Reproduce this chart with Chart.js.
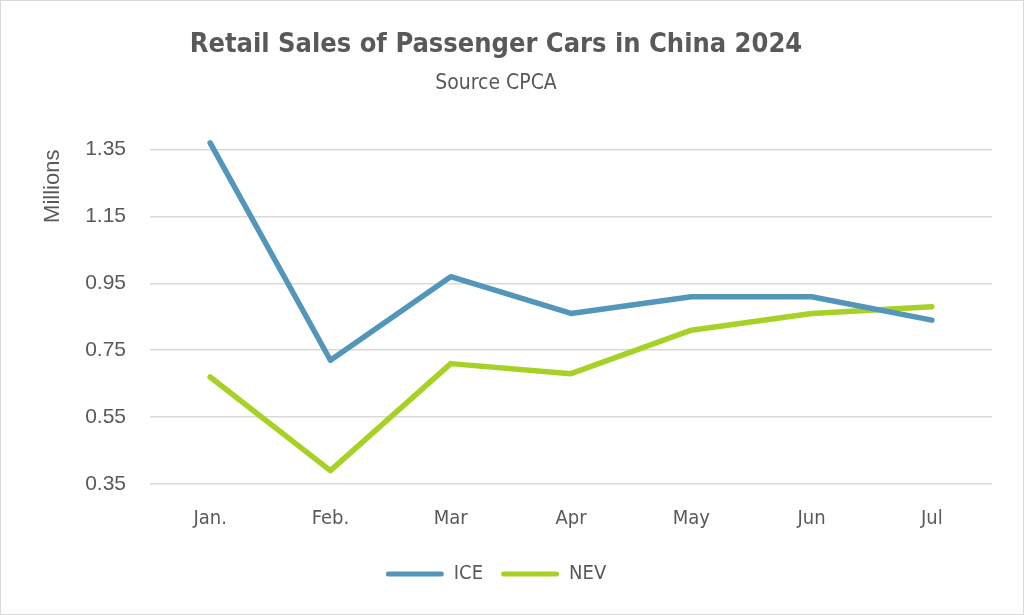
<!DOCTYPE html>
<html>
<head>
<meta charset="utf-8">
<script src="https://cdn.jsdelivr.net/npm/chart.js@4"></script>
<style>
  body { margin: 0; background: #fff; }
  canvas { display: block; }
</style>
</head>
<body>
<canvas id="chart" width="1024" height="615"></canvas>
<script>
// data
const months = ['Jan.', 'Feb.', 'Mar', 'Apr', 'May', 'Jun', 'Jul'];
const iceSales = [1.37, 0.72, 0.97, 0.86, 0.91, 0.91, 0.84];
const nevSales = [0.67, 0.39, 0.71, 0.68, 0.81, 0.86, 0.88];
const yTicks = [0.35, 0.55, 0.75, 0.95, 1.15, 1.35];

const textColor = '#595959';
const narrow = "'Liberation Sans Narrow', 'DejaVu Sans Condensed', sans-serif";
const regular = "'Liberation Sans', Arial, sans-serif";

// white background + thin frame
const frame = {
    id: 'frame',
    beforeDraw(chart) {
        const ctx = chart.ctx;
        ctx.save();
        ctx.fillStyle = '#fff';
        ctx.fillRect(0, 0, chart.width, chart.height);
        ctx.strokeStyle = '#d9d9d9';
        ctx.lineWidth = 1;
        ctx.strokeRect(0.5, 0.5, chart.width - 1, chart.height - 1);
        ctx.restore();
    }
};

const ctx = document.getElementById('chart').getContext('2d');
const myChart = new Chart(ctx, {
    type: 'line',
    data: {
        labels: months,
        datasets: [
            {
                label: 'ICE',
                data: iceSales,
                borderColor: '#5396BA',
                backgroundColor: '#5396BA',
                borderWidth: 5.5,
                pointRadius: 0,
                tension: 0,
                clip: 20,
                borderCapStyle: 'round',
                borderJoinStyle: 'round'
            },
            {
                label: 'NEV',
                data: nevSales,
                borderColor: '#A8D126',
                backgroundColor: '#A8D126',
                borderWidth: 5.5,
                pointRadius: 0,
                tension: 0,
                clip: 20,
                borderCapStyle: 'round',
                borderJoinStyle: 'round'
            }
        ]
    },
    options: {
        responsive: false,
        animation: false,
        layout: { padding: { top: 0, left: 0, right: 32, bottom: 21 } },
        plugins: {
            title: {
                display: true,
                text: 'Retail Sales of Passenger Cars in China 2024',
                color: textColor,
                font: { family: narrow, size: 27, weight: 'bold' },
                padding: { top: 29, bottom: 0 }
            },
            subtitle: {
                display: true,
                text: 'Source CPCA',
                color: textColor,
                font: { family: narrow, size: 21 },
                padding: { top: 10, bottom: 53 }
            },
            legend: {
                position: 'bottom',
                labels: {
                    color: textColor,
                    font: { family: narrow, size: 20 },
                    boxWidth: 58,
                    boxHeight: 5,
                    padding: 18,
                    useBorderRadius: true,
                    borderRadius: 2.5,
                    generateLabels(chart) {
                        const items = Chart.defaults.plugins.legend.labels.generateLabels(chart);
                        items.forEach(it => { it.lineWidth = 0; });
                        return items;
                    }
                }
            },
            tooltip: { enabled: false }
        },
        scales: {
            x: {
                offset: true,
                grid: { display: false },
                border: { display: false },
                ticks: {
                    color: textColor,
                    font: { family: narrow, size: 20 },
                    padding: 15
                },
                afterFit(scale) { scale.height = 62; }
            },
            y: {
                min: 0.35,
                max: 1.35,
                afterBuildTicks(scale) {
                    scale.ticks = yTicks.map(v => ({ value: v }));
                },
                grid: { color: '#d9d9d9', lineWidth: 1.5, drawTicks: false },
                border: { display: false },
                ticks: {
                    color: textColor,
                    font: { family: regular, size: 21 },
                    padding: 24,
                    callback: v => v.toFixed(2)
                },
                title: {
                    display: true,
                    text: 'Millions',
                    align: 'end',
                    color: textColor,
                    font: { family: regular, size: 22 },
                    padding: { top: 40, bottom: 0 }
                },
                afterFit(scale) { scale.width = 150; }
            }
        }
    },
    plugins: [frame]
});
</script>
</body>
</html>
